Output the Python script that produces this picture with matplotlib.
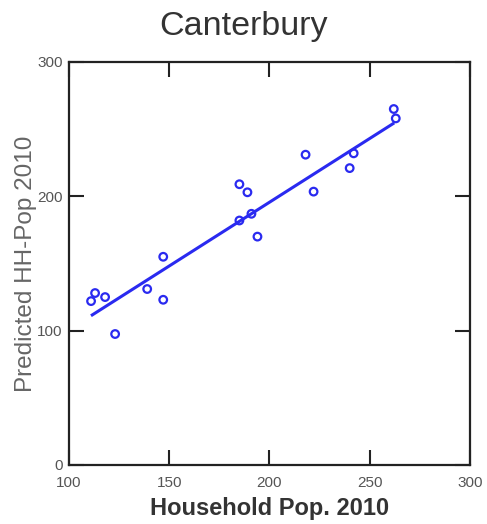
import matplotlib
matplotlib.use("Agg")
import matplotlib.pyplot as plt
import numpy as np

plt.rcParams['font.family'] = ['Liberation Sans', 'DejaVu Sans']

household_pop = [111, 113, 118, 123, 139, 147, 147, 185, 189, 185, 191, 194, 218, 222, 242, 240, 262, 263]
predicted_pop = [122, 128, 125, 97.5, 131, 155, 123, 209, 203, 182, 187, 170, 231, 203.5, 232, 221, 265, 258]
fit_x_range = [111.6, 261.6]
fit_slope = 0.949
fit_intercept = 5.8
x_ticks = [100, 150, 200, 250, 300]
y_ticks = [0, 100, 200, 300]

fig = plt.figure(figsize=(4.87, 5.24), dpi=100)
ax = fig.add_axes([0.1417, 0.1126, 0.8233, 0.7691])

blue = '#2a2af0'
ax.scatter(household_pop, predicted_pop, s=30, facecolors='none', edgecolors=blue, linewidths=1.6, zorder=3)
fx = np.array(fit_x_range)
ax.plot(fx, fit_slope * fx + fit_intercept, color=blue, lw=2.2, zorder=2)

ax.set_xlim(100, 300)
ax.set_ylim(0, 300)
ax.set_xticks(x_ticks)
ax.set_yticks(y_ticks)
ax.tick_params(direction='in', length=11, width=1.5, top=True, right=True,
               labelsize=11, labelcolor='#555555', color='#222222')
ax.tick_params(axis='x', pad=8)
ax.tick_params(axis='y', pad=4.5)
for s in ax.spines.values():
    s.set_linewidth(1.6)
    s.set_color('#222222')

ax.set_xlabel('Household Pop. 2010', fontsize=17, fontweight='bold', color='#333333', labelpad=5)
ax.set_ylabel('Predicted HH-Pop 2010', fontsize=17.5, color='#666666', labelpad=0)
fig.text(0.5, 1 - 26 / 524, 'Canterbury', fontsize=24.5, color='#333333', ha='center', va='center')

fig.savefig('out.png', dpi=100)
